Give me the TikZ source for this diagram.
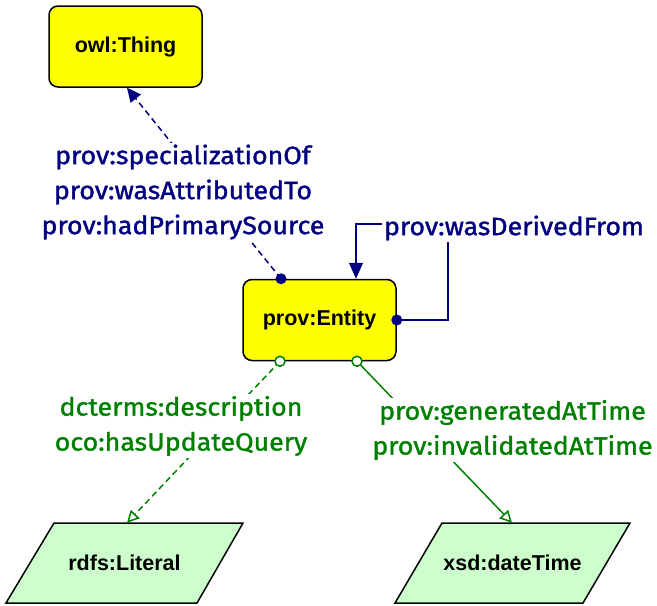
\documentclass[tikz,border=0pt]{standalone}
\usepackage{fontspec}
\setmainfont{Liberation Sans}
\newfontfamily\lblfont[FakeBold=1.4,FakeStretch=1.07]{Fira Sans}
\usetikzlibrary{arrows.meta,calc}
\definecolor{navyc}{RGB}{0,0,128}
\definecolor{greenc}{RGB}{0,128,0}
\definecolor{yel}{RGB}{255,255,0}
\definecolor{lgreen}{RGB}{204,255,204}
\begin{document}
\begin{tikzpicture}[x=1pt,y=-1pt,
  classbox/.style={draw=black, line width=1.5pt, fill=yel, rounded corners=9pt,
    minimum width=153pt, minimum height=81pt, inner sep=0pt,
    font=\fontsize{21.5}{25}\selectfont\bfseries},
  dtbox/.style={draw=black, line width=1.5pt, fill=lgreen},
  dtext/.style={inner sep=0pt, minimum width=150pt, minimum height=80pt,
    font=\fontsize{21.5}{25}\selectfont\bfseries},
  plabel/.style={fill=white, inner sep=2pt, align=center, text=navyc,
    font=\lblfont\fontsize{25}{35}\selectfont},
  glabel/.style={fill=white, inner sep=2pt, align=center, text=greenc,
    font=\lblfont\fontsize{25}{35}\selectfont},
  navyline/.style={draw=navyc, line width=1.5pt},
  greenline/.style={draw=greenc, line width=1.5pt},
  dashpat/.style={dash pattern=on 6pt off 4pt},
  fdot/.style={circle, fill=navyc, inner sep=0pt, minimum size=11pt},
  odot/.style={circle, draw=greenc, fill=white, line width=1.5pt, inner sep=0pt, minimum size=10pt},
]
\useasboundingbox (0,0) rectangle (657,606);

% boxes
\node[classbox] (thing) at (125.5,46.5) {owl:Thing};
\node[classbox] (entity) at (319.5,320) {prov:Entity};
\draw[dtbox] (54,523) -- (243,523) -- (197,603) -- (6,603) -- cycle;
\node[dtext] (literal) at (124.5,563) {rdfs:Literal};
\draw[dtbox] (442,523) -- (630,523) -- (583,603) -- (395,603) -- cycle;
\node[dtext] (datetime) at (512.5,563) {xsd:dateTime};

% anchor points
\coordinate (espec) at ([xshift=-38.5pt]entity.north);
\coordinate (ederin) at ([xshift=36.5pt]entity.north);
\coordinate (elit) at ([xshift=-39.5pt]entity.south);
\coordinate (edt) at ([xshift=37.5pt]entity.south);
\coordinate (thingin) at ([xshift=1.5pt]thing.south);
\coordinate (litin) at ([xshift=2.5pt]literal.north);
\coordinate (dtin) at ([xshift=-0.5pt]datetime.north);
\coordinate (bendA) at (448,224);

% connectors
\draw[navyline, dashpat, -{Triangle[length=14pt,width=13pt]}] (espec) -- (thingin);
\draw[navyline, -{Triangle[length=16pt,width=14pt]}] (entity.east) -| (bendA) -| (ederin);
\draw[greenline, dashpat, -{Triangle[open,length=12pt,width=12pt]}] (elit) -- (litin);
\draw[greenline, -{Triangle[open,length=12pt,width=12pt]}] (edt) -- (dtin);

% labels
\node[plabel] (lspec) at (183,192) {prov:specializationOf\\prov:wasAttributedTo\\prov:hadPrimarySource};
\node[plabel] (lder) at (514,228) {prov:wasDerivedFrom};
\node[glabel] (llit) at (181,426) {dcterms:description\\oco:hasUpdateQuery};
\node[glabel] (ldt) at (512.5,430) {prov:generatedAtTime\\prov:invalidatedAtTime};

% end markers
\node[fdot] (dotspec) at (espec) {};
\node[fdot] (dotder) at (entity.east) {};
\node[odot] (odlit) at (elit) {};
\node[odot] (oddt) at (edt) {};
\end{tikzpicture}
\end{document}
